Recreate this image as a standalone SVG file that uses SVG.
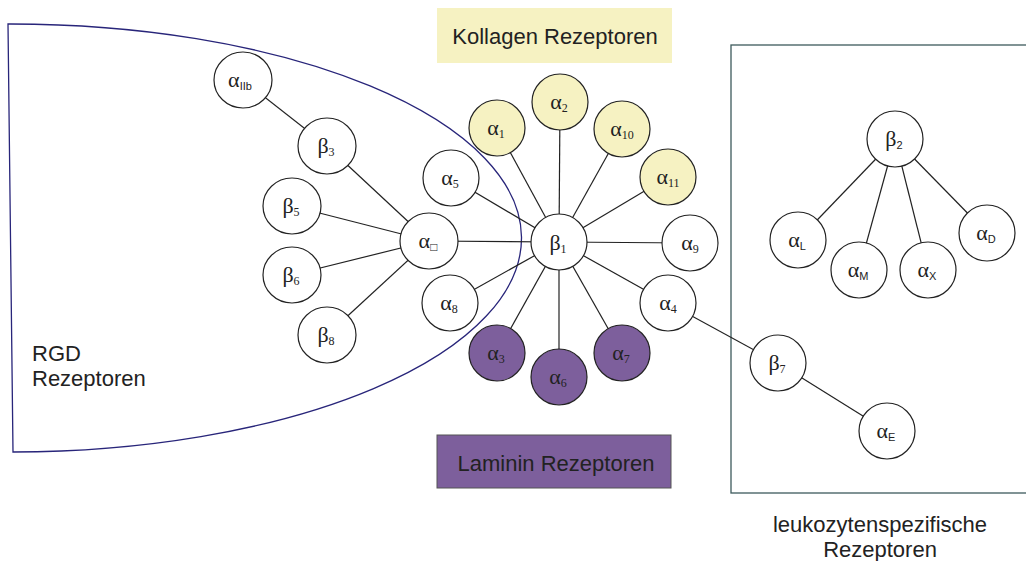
<svg xmlns="http://www.w3.org/2000/svg" width="1026" height="561" viewBox="0 0 1026 561">
<style>
.n{fill:#fff;stroke:#222;stroke-width:1.2}
.y{fill:#f6f2c2}
.p{fill:#7d5f9c}
.g{font-family:"Liberation Serif",serif;font-size:22px;fill:#222;text-anchor:middle}
.s{font-size:12px}
.h{font-family:"Liberation Sans",Arial,sans-serif;font-size:22px;fill:#222}
.hs{font-family:"Liberation Sans",Arial,sans-serif;font-size:11px}
#edges line{stroke:#222;stroke-width:1.2}
</style>
<rect width="1026" height="561" fill="#fff"/>
<g id="rgd-region">
<path d="M8,24 A511,214 0 0 1 13,452 Z" fill="none" stroke="#28257a" stroke-width="1.3"/>
<text class="h" x="32" y="361">RGD</text>
<text class="h" x="32" y="386">Rezeptoren</text>
</g>
<g id="leuko-region">
<rect x="731" y="45" width="300" height="448" fill="none" stroke="#3d5a5c" stroke-width="1.3"/>
<text class="h" x="880" y="532" text-anchor="middle">leukozytenspezifische</text>
<text class="h" x="880" y="557" text-anchor="middle">Rezeptoren</text>
</g>
<g id="kollagen-label">
<rect x="437" y="8" width="235" height="55" fill="#f6f2c2"/>
<text class="h" x="555" y="44" text-anchor="middle" font-size="24">Kollagen Rezeptoren</text>
</g>
<g id="laminin-label">
<rect x="437" y="435" width="234" height="53" fill="#7d5f9c" stroke="#555" stroke-width="1"/>
<text class="h" x="556" y="471" text-anchor="middle" font-size="23">Laminin Rezeptoren</text>
</g>
<g id="edges">
<line x1="243" y1="80" x2="327" y2="146"/>
<line x1="327" y1="146" x2="429" y2="241"/>
<line x1="292" y1="206" x2="429" y2="241"/>
<line x1="292" y1="275" x2="429" y2="241"/>
<line x1="327" y1="335" x2="429" y2="241"/>
<line x1="429" y1="241" x2="559" y2="242"/>
<line x1="559" y1="242" x2="451" y2="178"/>
<line x1="559" y1="242" x2="497" y2="128"/>
<line x1="559" y1="242" x2="560" y2="102"/>
<line x1="559" y1="242" x2="622" y2="129"/>
<line x1="559" y1="242" x2="668" y2="177"/>
<line x1="559" y1="242" x2="690" y2="243"/>
<line x1="559" y1="242" x2="668" y2="303"/>
<line x1="559" y1="242" x2="622" y2="353"/>
<line x1="559" y1="242" x2="559" y2="377"/>
<line x1="559" y1="242" x2="497" y2="353"/>
<line x1="559" y1="242" x2="450" y2="303"/>
<line x1="668" y1="303" x2="778" y2="363"/>
<line x1="778" y1="363" x2="887" y2="431"/>
<line x1="895" y1="139" x2="798" y2="240"/>
<line x1="895" y1="139" x2="859" y2="270"/>
<line x1="895" y1="139" x2="928" y2="270"/>
<line x1="895" y1="139" x2="987" y2="233"/>
</g>
<g id="aIIb"><ellipse class="n" cx="243" cy="80" rx="29" ry="28"/><text class="g" x="240" y="87">α<tspan class="hs" dy="3">IIb</tspan></text></g>
<g id="b3"><ellipse class="n" cx="327" cy="146" rx="29" ry="28"/><text class="g" x="326" y="153">β<tspan class="s" dy="3">3</tspan></text></g>
<g id="b5"><ellipse class="n" cx="292" cy="206" rx="29" ry="28"/><text class="g" x="291" y="213">β<tspan class="s" dy="3">5</tspan></text></g>
<g id="b6"><ellipse class="n" cx="292" cy="275" rx="29" ry="28"/><text class="g" x="291" y="282">β<tspan class="s" dy="3">6</tspan></text></g>
<g id="b8"><ellipse class="n" cx="327" cy="335" rx="29" ry="28"/><text class="g" x="326" y="342">β<tspan class="s" dy="3">8</tspan></text></g>
<g id="av"><ellipse class="n" cx="429" cy="241" rx="29" ry="28"/><text class="g" x="428" y="248">α<tspan class="s" font-size="9" dy="3">□</tspan></text></g>
<g id="a5"><ellipse class="n" cx="451" cy="178" rx="28" ry="28"/><text class="g" x="450" y="185">α<tspan class="s" dy="3">5</tspan></text></g>
<g id="a8"><ellipse class="n" cx="450" cy="303" rx="28" ry="28"/><text class="g" x="449" y="310">α<tspan class="s" dy="3">8</tspan></text></g>
<g id="a1"><ellipse class="n y" cx="497" cy="128" rx="28" ry="28"/><text class="g" x="496" y="135">α<tspan class="s" dy="3">1</tspan></text></g>
<g id="a2"><ellipse class="n y" cx="560" cy="102" rx="28" ry="28"/><text class="g" x="559" y="109">α<tspan class="s" dy="3">2</tspan></text></g>
<g id="a10"><ellipse class="n y" cx="622" cy="129" rx="28" ry="28"/><text class="g" x="622" y="136">α<tspan class="s" dy="3">10</tspan></text></g>
<g id="a11"><ellipse class="n y" cx="668" cy="177" rx="28" ry="28"/><text class="g" x="668" y="184">α<tspan class="s" dy="3">11</tspan></text></g>
<g id="b1"><ellipse class="n" cx="559" cy="242" rx="28" ry="28"/><text class="g" x="558" y="250" font-size="25">β<tspan class="s" font-size="13" dy="3">1</tspan></text></g>
<g id="a9"><ellipse class="n" cx="690" cy="243" rx="28" ry="28"/><text class="g" x="690" y="250">α<tspan class="s" dy="3">9</tspan></text></g>
<g id="a4"><ellipse class="n" cx="668" cy="303" rx="28" ry="28"/><text class="g" x="668" y="310">α<tspan class="s" dy="3">4</tspan></text></g>
<g id="a3"><ellipse class="n p" cx="497" cy="353" rx="28" ry="28"/><text class="g" x="496" y="360">α<tspan class="s" dy="3">3</tspan></text></g>
<g id="a6"><ellipse class="n p" cx="559" cy="377" rx="28" ry="28"/><text class="g" x="558" y="384">α<tspan class="s" dy="3">6</tspan></text></g>
<g id="a7"><ellipse class="n p" cx="622" cy="353" rx="28" ry="28"/><text class="g" x="621" y="360">α<tspan class="s" dy="3">7</tspan></text></g>
<g id="b7"><ellipse class="n" cx="778" cy="363" rx="28" ry="28"/><text class="g" x="777" y="370">β<tspan class="s" dy="3">7</tspan></text></g>
<g id="aE"><ellipse class="n" cx="887" cy="431" rx="28" ry="28"/><text class="g" x="886" y="438">α<tspan class="hs" dy="3">E</tspan></text></g>
<g id="b2"><ellipse class="n" cx="895" cy="139" rx="28" ry="28"/><text class="g" x="894" y="146">β<tspan class="hs" dy="3">2</tspan></text></g>
<g id="aL"><ellipse class="n" cx="798" cy="240" rx="28" ry="28"/><text class="g" x="797" y="247">α<tspan class="hs" dy="3">L</tspan></text></g>
<g id="aM"><ellipse class="n" cx="859" cy="270" rx="28" ry="28"/><text class="g" x="858" y="277">α<tspan class="hs" dy="3">M</tspan></text></g>
<g id="aX"><ellipse class="n" cx="928" cy="270" rx="28" ry="28"/><text class="g" x="927" y="277">α<tspan class="hs" dy="3">X</tspan></text></g>
<g id="aD"><ellipse class="n" cx="987" cy="233" rx="28" ry="28"/><text class="g" x="986" y="240">α<tspan class="hs" dy="3">D</tspan></text></g>
</svg>
